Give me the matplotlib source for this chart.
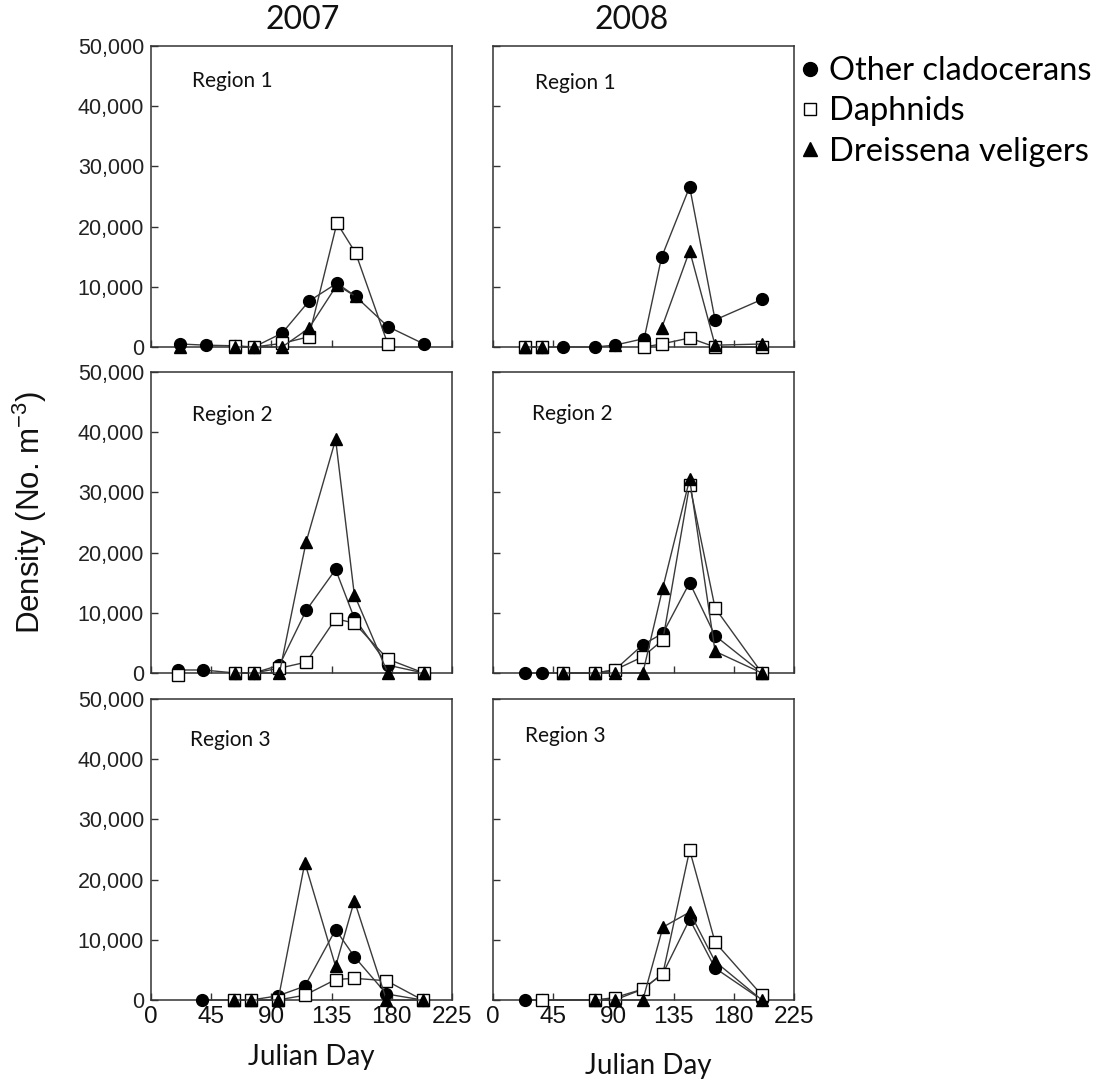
import numpy as np
import matplotlib
matplotlib.use('Agg')
import matplotlib.pyplot as plt
from matplotlib.lines import Line2D
from matplotlib.ticker import FuncFormatter

nan = np.nan

# ---- data (Julian day, density No. m-3) ----
days_2007_r1 = [22, 41, 63, 77, 98, 118, 139, 153, 177, 204]
other_2007_r1 = [500, 300, 200, 0, 2300, 7600, 10600, 8400, 3400, 500]
daph_2007_r1 = [nan, nan, 100, 0, 600, 1700, 20600, 15600, 500, nan]
veli_2007_r1 = [0, nan, 0, 0, 0, 3100, 10300, 8400, nan, nan]

days_2008_r1 = [24, 37, 52, 76, 91, 113, 126, 147, 166, 201]
other_2008_r1 = [0, 0, 0, 0, 300, 1400, 14900, 26600, 4500, 7900]
daph_2008_r1 = [0, 0, nan, nan, nan, 0, 500, 1500, 0, 0]
veli_2008_r1 = [0, 0, nan, nan, 300, nan, 3100, 16000, 300, 500]

days_2007_r2 = [20, 39, 63, 77, 96, 116, 138, 152, 177, 204]
other_2007_r2 = [500, 500, 0, 0, 1300, 10400, 17200, 9100, 1300, 0]
daph_2007_r2 = [-300, nan, 0, 0, 800, 1800, 9000, 8300, 2300, 0]
veli_2007_r2 = [nan, nan, 0, 0, 0, 21800, 38800, 13000, 0, 0]

days_2008_r2 = [24, 37, 52, 76, 91, 112, 127, 147, 166, 201]
other_2008_r2 = [0, 0, 0, 0, 500, 4700, 6600, 15000, 6200, 0]
daph_2008_r2 = [nan, nan, 0, 0, 500, 2700, 5500, 31300, 10800, 0]
veli_2008_r2 = [nan, nan, 0, 0, 0, 0, 14200, 32200, 3600, 0]

days_2007_r3 = [38, 62, 75, 95, 115, 138, 152, 176, 203]
other_2007_r3 = [0, 0, 0, 700, 2300, 11700, 7200, 1000, 0]
daph_2007_r3 = [nan, 0, 0, 0, 800, 3400, 3600, 3200, 0]
veli_2007_r3 = [nan, 0, 0, 0, 22800, 5600, 16500, 0, 0]

days_2008_r3 = [24, 37, 76, 91, 112, 127, 147, 166, 201]
other_2008_r3 = [0, 0, 0, 0, 1800, 4400, 13400, 5300, 0]
daph_2008_r3 = [nan, 0, 0, 400, 1800, 4400, 24900, 9600, 800]
veli_2008_r3 = [nan, nan, 0, 0, 0, 12100, 14600, 6400, 0]

years = ['2007', '2008']
regions = ['Region 1', 'Region 2', 'Region 3']
species = ['Other cladocerans', 'Daphnids', 'Dreissena veligers']
x_ticks = [0, 45, 90, 135, 180, 225]
y_ticks = [0, 10000, 20000, 30000, 40000, 50000]

panels = {
    (0, 0): (days_2007_r1, other_2007_r1, daph_2007_r1, veli_2007_r1),
    (0, 1): (days_2008_r1, other_2008_r1, daph_2008_r1, veli_2008_r1),
    (1, 0): (days_2007_r2, other_2007_r2, daph_2007_r2, veli_2007_r2),
    (1, 1): (days_2008_r2, other_2008_r2, daph_2008_r2, veli_2008_r2),
    (2, 0): (days_2007_r3, other_2007_r3, daph_2007_r3, veli_2007_r3),
    (2, 1): (days_2008_r3, other_2008_r3, daph_2008_r3, veli_2008_r3),
}

# region label positions (axes fraction)
label_pos = {
    (0, 0): (0.136, 0.884), (0, 1): (0.14, 0.877),
    (1, 0): (0.136, 0.857), (1, 1): (0.13, 0.86),
    (2, 0): (0.13, 0.864), (2, 1): (0.107, 0.877),
}

calibri_like = ['Lato', 'DejaVu Sans']
arial = ['Liberation Sans', 'DejaVu Sans']
narrow = ['Liberation Sans Narrow', 'Liberation Sans', 'DejaVu Sans']

line_kw = dict(color='#3a3a3a', lw=1.0, clip_on=False)
styles = [
    dict(marker='o', ms=8.5, mfc='black', mec='black'),
    dict(marker='s', ms=8, mfc='white', mec='black', mew=1.0),
    dict(marker='^', ms=8.5, mfc='black', mec='black'),
]

W, H = 1110, 1085
fig = plt.figure(figsize=(W / 100, H / 100), dpi=100)

lefts = [151 / W, 493 / W]
bottoms = [1 - 347 / H, 1 - 673 / H, 1 - 1000 / H]
aw, ah = 301 / W, 301 / H

for (r, c), (days, *series) in panels.items():
    ax = fig.add_axes([lefts[c], bottoms[r], aw, ah])
    for vals, st in zip(series, styles):
        ax.plot(days, vals, zorder=3, **line_kw, **st)
    ax.set_xlim(0, 225)
    ax.set_ylim(0, 50000)
    ax.set_xticks(x_ticks)
    ax.set_yticks(y_ticks)
    ax.tick_params(direction='in', length=5, width=1, color='#333')
    ax.tick_params(axis='y', pad=5)
    ax.tick_params(axis='x', pad=4)
    for sp in ax.spines.values():
        sp.set_color('#333')
        sp.set_linewidth(1.1)
    if c == 0:
        ax.yaxis.set_major_formatter(FuncFormatter(lambda v, p: f'{int(v):,}'))
        for t in ax.get_yticklabels():
            t.set_fontfamily(arial)
            t.set_fontsize(15.5)
            t.set_color('#222')
    else:
        ax.set_yticklabels([])
    if r == 2:
        for t in ax.get_xticklabels():
            t.set_fontfamily(narrow)
            t.set_fontsize(17.5)
            t.set_color('#111')
    else:
        ax.set_xticklabels([])
    lx, ly = label_pos[(r, c)]
    ax.text(lx, ly, regions[r], transform=ax.transAxes, ha='left', va='center',
            fontsize=15, family=calibri_like, color='#111')

# column titles
fig.text(303 / W, 1 - 20 / H, years[0], ha='center', va='center', fontsize=23,
         family=calibri_like, color='#111')
fig.text(632 / W, 1 - 20 / H, years[1], ha='center', va='center', fontsize=23,
         family=calibri_like, color='#111')

# axis labels
fig.text(30 / W, 1 - 512 / H, 'Density (No. m$^{\\mathregular{-3}}$)', rotation=90,
         ha='center', va='center', fontsize=22.5, family=arial, color='#111')
fig.text(311 / W, 1 - 1057 / H, 'Julian Day', ha='center', va='center', fontsize=20,
         family=calibri_like, color='#111')
fig.text(648 / W, 1 - 1066 / H, 'Julian Day', ha='center', va='center', fontsize=20,
         family=calibri_like, color='#111')

# legend
handles = [Line2D([], [], ls='none', marker='o', ms=10, mfc='black', mec='black'),
           Line2D([], [], ls='none', marker='s', ms=9, mfc='white', mec='black', mew=1.0),
           Line2D([], [], ls='none', marker='^', ms=10, mfc='black', mec='black')]
fig.legend(handles, species, loc='upper left', bbox_to_anchor=(800 / W, 1 - 56 / H),
           frameon=False, handlelength=0.6, handletextpad=0.3, labelspacing=0.32,
           borderpad=0, borderaxespad=0, prop=dict(family=calibri_like, size=23.5))

fig.savefig('out.png', dpi=100)
